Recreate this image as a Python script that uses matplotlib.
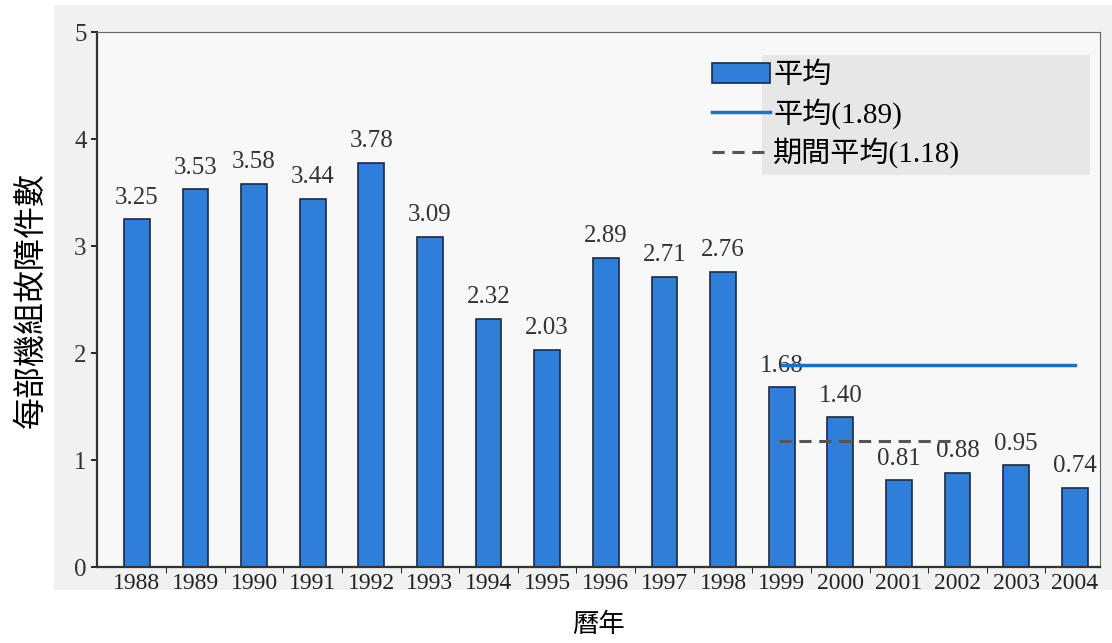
import numpy as np
import matplotlib.pyplot as plt
from matplotlib.patches import Rectangle

plt.rcParams['font.family'] = ['Liberation Serif', 'Noto Sans CJK TC']

# 資料
years = ['1988', '1989', '1990', '1991', '1992', '1993', '1994', '1995', '1996',
         '1997', '1998', '1999', '2000', '2001', '2002', '2003', '2004']
values = [3.25, 3.53, 3.58, 3.44, 3.78, 3.09, 2.32, 2.03, 2.89,
          2.71, 2.76, 1.68, 1.40, 0.81, 0.88, 0.95, 0.74]
avg_all = 1.89
avg_period = 1.18
avg_years = ('1999', '2004')
period_years = ('1999', '2002')

fig = plt.figure(figsize=(11.12, 6.43), dpi=100)
fig.patches.append(Rectangle((0.049, 0.082), 0.951, 0.91, transform=fig.transFigure,
                             facecolor='#f1f1f1', edgecolor='none', zorder=-5))
ax = fig.add_axes([0.0872, 0.118, 0.902, 0.832])
ax.set_facecolor('#f8f8f8')

x = np.arange(len(years))
b = ax.bar(x, values, width=0.44, color='#2f7fd8', edgecolor='#1a2a44',
           linewidth=1.2, label='平均', zorder=2)

for xi, v in zip(x, values):
    ax.text(xi, v + 0.1, f'{v:.2f}', ha='center', va='bottom', fontsize=18,
            color='#333333', zorder=3)

i0, i1 = years.index(avg_years[0]), years.index(avg_years[1])
l1, = ax.plot([x[i0], x[i1]], [avg_all, avg_all], color='#1f6fc8', lw=2.5,
              label=f'平均({avg_all})', zorder=4)
j0, j1 = years.index(period_years[0]), years.index(period_years[1])
l2, = ax.plot([x[j0] - 0.05, x[j1] + 0.05], [avg_period, avg_period], color='#555555',
              lw=2.2, ls=(0, (4, 2.5)), label=f'期間平均({avg_period})', zorder=4)

ax.set_xlim(-0.68, 16.43)
ax.set_ylim(0, 5)
ax.set_yticks(range(6))
ax.set_xticks(x)
ax.set_xticklabels(years)
ax.set_xticks(x[:-1] + 0.5, minor=True)
ax.tick_params(axis='x', which='major', length=0, labelsize=17, pad=4,
               labelcolor='#222222')
ax.tick_params(axis='x', which='minor', length=4, direction='out')
ax.tick_params(axis='y', labelsize=18, length=4, width=1.2, labelcolor='#333333')
for s in ax.spines.values():
    s.set_color('#666666')
for s in ('left', 'bottom'):
    ax.spines[s].set_linewidth(1.6)
    ax.spines[s].set_color('#333333')

ax.set_ylabel('每部機組故障件數', fontsize=23, labelpad=20)
ax.set_xlabel('曆年', fontsize=19, labelpad=14)

# 圖例背景
ax.add_patch(Rectangle((0.685, 0.728), 0.295, 0.186, transform=fig.transFigure,
                       facecolor='#e7e7e7', edgecolor='none', zorder=1))
ax.legend(handles=[b, l1, l2], loc='upper left', bbox_to_anchor=(0.627, 0.925),
          bbox_transform=fig.transFigure, fontsize=21, frameon=False,
          handlelength=2.0, handletextpad=0.1, labelspacing=0.3, borderpad=0)

fig.savefig('out.png', dpi=100)
